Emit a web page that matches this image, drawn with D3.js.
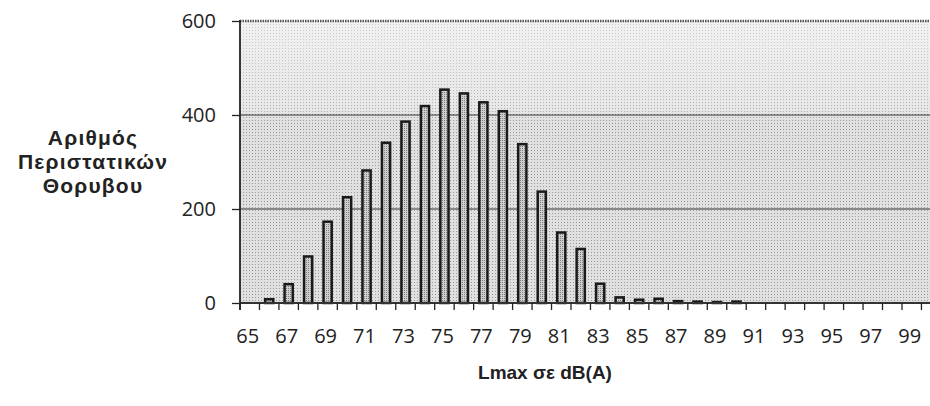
<!DOCTYPE html>
<html>
<head>
<meta charset="utf-8">
<script src="https://cdn.jsdelivr.net/npm/d3@7"></script>
<style>
  body { margin: 0; background: #fff; }
  svg { display: block; }
  .tick-label { font-family: "Open Sans", sans-serif; font-size: 20px; fill: #222; }
  .title { font-family: "Liberation Sans", Arial, sans-serif; font-weight: bold; fill: #222; }
</style>
</head>
<body>
<svg id="chart" width="930" height="406"></svg>
<script>
// noise levels (dB(A)) and number of events
var levels = d3.range(65, 101);
var counts = [0, 8, 40, 99, 173, 225, 282, 341, 386, 419, 454, 446, 427, 408, 338, 237,
              150, 115, 41, 12, 7, 9, 4, 3, 2, 3, 0, 0, 0, 0, 0, 0, 0, 0, 0, 0];
var yTicks = [0, 200, 400, 600];
var xLabels = d3.range(65, 100, 2);
var yTitle = ['Αριθμός', 'Περιστατικών', 'Θορυβου'];
var xTitle = 'Lmax σε dB(A)';

var svg = d3.select('#chart');
var data = levels.map((l, i) => ({ level: l, count: counts[i] }));

var plotLeft = 240, plotTop = 21, plotBottom = 303, plotRight = 930;
var step = 19.47;

var x = d3.scaleBand()
          .domain(levels)
          .range([plotLeft, plotLeft + step * levels.length]);

var y = d3.scaleLinear()
          .domain([0, 600])
          .range([plotBottom, plotTop]);

// patterns for the scanned halftone look
var defs = svg.append('defs');
var bg = defs.append('pattern')
             .attr('id', 'bgdots')
             .attr('width', 3).attr('height', 3)
             .attr('patternUnits', 'userSpaceOnUse');
bg.append('rect').attr('width', 3).attr('height', 3).attr('fill', '#e0e0e0');
bg.append('rect').attr('width', 1).attr('height', 1).attr('fill', '#999');

var bp = defs.append('pattern')
             .attr('id', 'bardots')
             .attr('width', 2).attr('height', 2)
             .attr('patternUnits', 'userSpaceOnUse');
bp.append('rect').attr('width', 2).attr('height', 2).attr('fill', '#cfcfcf');
bp.append('rect').attr('width', 1).attr('height', 1).attr('fill', '#808080');

var grad = defs.append('linearGradient')
               .attr('id', 'fade')
               .attr('x1', 0).attr('y1', 0).attr('x2', 0).attr('y2', 1);
grad.append('stop').attr('offset', '0%').attr('stop-color', '#fff').attr('stop-opacity', 0.55);
grad.append('stop').attr('offset', '30%').attr('stop-color', '#fff').attr('stop-opacity', 0.25);
grad.append('stop').attr('offset', '36%').attr('stop-color', '#fff').attr('stop-opacity', 0);
grad.append('stop').attr('offset', '100%').attr('stop-color', '#fff').attr('stop-opacity', 0);

// plot background
svg.append('rect')
   .attr('x', plotLeft).attr('y', plotTop)
   .attr('width', plotRight - plotLeft).attr('height', plotBottom - plotTop)
   .attr('fill', 'url(#bgdots)');
svg.append('rect')
   .attr('x', plotLeft).attr('y', plotTop)
   .attr('width', plotRight - plotLeft).attr('height', plotBottom - plotTop)
   .attr('fill', 'url(#fade)');

// gridlines
svg.selectAll('.grid')
   .data(yTicks.filter(d => d > 0 && d < 600))
   .enter()
   .append('line')
     .attr('x1', plotLeft).attr('x2', plotRight)
     .attr('y1', d => y(d)).attr('y2', d => y(d))
     .attr('stroke', '#333')
     .attr('stroke-width', 1.2);

// top border (dotted)
svg.append('line')
   .attr('x1', plotLeft).attr('x2', plotRight)
   .attr('y1', y(600)).attr('y2', y(600))
   .attr('stroke', '#555')
   .attr('stroke-width', 2.5)
   .attr('stroke-dasharray', '1.5 1');

// bars
var bw = step * 0.42;
svg.selectAll('.bar')
   .data(data.filter(d => d.count > 0))
   .enter()
   .append('rect')
     .attr('x', d => x(d.level) + (step - bw) / 2)
     .attr('y', d => y(d.count))
     .attr('width', bw)
     .attr('height', d => plotBottom - y(d.count))
     .attr('fill', 'url(#bardots)')
     .attr('stroke', '#1a1a1a')
     .attr('stroke-width', 2.5);

// x axis line and ticks at band edges
svg.append('line')
   .attr('x1', plotLeft).attr('x2', plotRight)
   .attr('y1', plotBottom).attr('y2', plotBottom)
   .attr('stroke', '#333')
   .attr('stroke-width', 2);

svg.selectAll('.xtick')
   .data(levels)
   .enter()
   .append('line')
     .attr('x1', d => x(d)).attr('x2', d => x(d))
     .attr('y1', plotBottom).attr('y2', plotBottom + 7)
     .attr('stroke', '#222')
     .attr('stroke-width', 1.3);

var xAxis = svg.append('g')
   .attr('transform', `translate(0,${plotBottom})`)
   .call(d3.axisBottom(x).tickValues(xLabels).tickSize(0).tickPadding(0));
xAxis.select('.domain').remove();
xAxis.selectAll('text')
     .attr('class', 'tick-label')
     .attr('y', 40).attr('dy', 0).attr('dx', -2);

// y axis
svg.append('line')
   .attr('x1', plotLeft).attr('x2', plotLeft)
   .attr('y1', plotTop - 1).attr('y2', plotBottom + 7)
   .attr('stroke', '#222')
   .attr('stroke-width', 1.8);

var yAxis = svg.append('g')
   .attr('transform', `translate(${plotLeft},0)`)
   .call(d3.axisLeft(y).tickValues(yTicks).tickSize(8).tickPadding(16));
yAxis.select('.domain').remove();
yAxis.selectAll('line').attr('stroke', '#222').attr('stroke-width', 1.3);
yAxis.selectAll('text').attr('class', 'tick-label');

// titles
svg.append('text')
   .attr('class', 'title')
   .style('font-size', '21px')
   .style('letter-spacing', '1.2px')
   .attr('text-anchor', 'middle')
   .selectAll('tspan')
   .data(yTitle)
   .enter()
   .append('tspan')
     .attr('x', 93)
     .attr('y', (d, i) => 145 + i * 24)
     .text(d => d);

svg.append('text')
   .attr('class', 'title')
   .style('font-size', '19px')
   .attr('text-anchor', 'middle')
   .attr('x', 545)
   .attr('y', 379)
   .text(xTitle);
</script>
</body>
</html>
